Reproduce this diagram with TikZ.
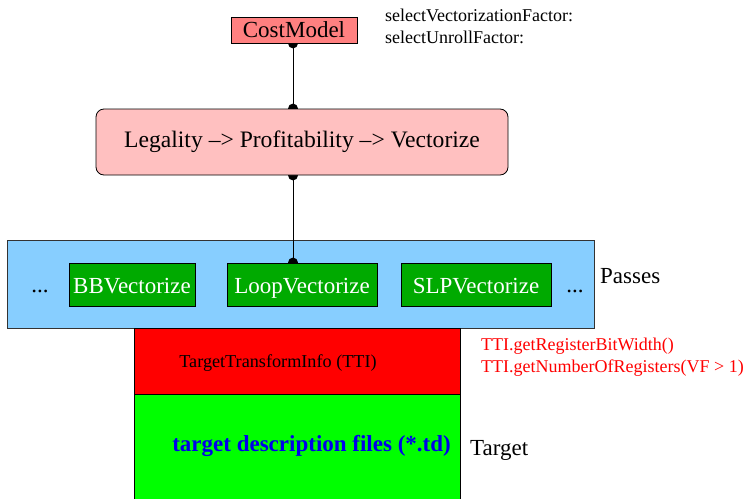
\documentclass[tikz,border=0pt]{standalone}
\usepackage{fontspec}
\setmainfont{Liberation Serif}
\usetikzlibrary{backgrounds}
\pgfdeclarelayer{links}
\pgfsetlayers{background,links,main}

\definecolor{costred}{RGB}{255,128,128}
\definecolor{legpink}{RGB}{255,192,192}
\definecolor{passblue}{RGB}{135,206,255}
\definecolor{passgreen}{RGB}{0,170,0}
\definecolor{ttired}{RGB}{255,0,0}
\definecolor{tdgreen}{RGB}{0,255,0}
\definecolor{tdblue}{RGB}{0,0,235}

\tikzset{
  box/.style={draw=black, line width=0.8pt, inner sep=0pt, anchor=center},
  passbox/.style={box, fill=passgreen, text=white, minimum height=43pt,
                  text height=19pt, text depth=2pt,
                  font=\fontsize{23}{26}\selectfont},
  big/.style={font=\fontsize{23}{26}\selectfont},
  note/.style={font=\fontsize{18}{21.5}\selectfont, align=left, anchor=north west, inner sep=0pt},
  link/.style={draw=black, line width=0.8pt},
  dot/.style={fill=black}
}

\begin{document}
\begin{tikzpicture}[x=1pt, y=-1pt]
  \useasboundingbox (0,0) rectangle (754,498);

  % cost model and the planning box
  \node[box, fill=costred, minimum width=126pt, minimum height=26pt, big] (cost) at (294,30) {CostModel};
  \node[note, text=black] (calls) at (385,9) {selectVectorizationFactor:\\selectUnrollFactor:};
  \node[box, fill=legpink, rounded corners=8pt, minimum width=412pt, minimum height=66pt,
        font=\fontsize{23.6}{26}\selectfont]
       (plan) at (302,142) {Legality –> Profitability –> Vectorize};

  % passes container and the vectorizer passes
  \begin{scope}[on background layer]
    \node[box, draw=black!80, fill=passblue, minimum width=587pt, minimum height=88pt] (passes) at (300.5,284) {};
  \end{scope}
  \node[passbox, minimum width=126pt] (bb) at (132,284.5) {BBVectorize};
  \node[passbox, minimum width=150pt] (loop) at (302,284.5) {LoopVectorize};
  \node[passbox, minimum width=150pt] (slp) at (476,284.5) {SLPVectorize};
  \node[big, anchor=base, inner sep=0pt] (dotsl) at (40,292) {...};
  \node[big, anchor=base, inner sep=0pt] (dotsr) at (575,292) {...};
  \node[big, anchor=west, inner sep=0pt] (passlabel) at (600,276) {Passes};

  % target side
  \node[box, fill=ttired, minimum width=326pt, minimum height=66pt] (tti) at (297,361) {};
  \node[anchor=base, inner sep=0pt, font=\fontsize{18.2}{20}\selectfont] (ttitext) at (278,367) {TargetTransformInfo (TTI)};
  \node[box, fill=tdgreen, minimum width=326pt, minimum height=110pt] (td) at (297,449) {};
  \node[anchor=base east, inner sep=0pt, text=tdblue, font=\fontsize{23}{26}\selectfont\bfseries]
       (tdtext) at (451,451) {target description files (*.td)};
  \node[big, anchor=base west, inner sep=0pt] (target) at (470,455) {Target};
  \node[note, text=ttired, font=\fontsize{18}{22}\selectfont] (ttinote) at (481,338) {TTI.getRegisterBitWidth()\\TTI.getNumberOfRegisters(VF > 1)};

  % connectors with round joints on the box borders
  \begin{pgfonlayer}{links}
    \draw[link] (cost.south -| 293,0) -- (plan.north -| 293,0);
    \fill[dot] (cost.south -| 293,0) circle (5pt);
    \fill[dot] (plan.north -| 293,0) circle (5pt);
    \draw[link] (plan.south -| 293,0) -- (loop.north -| 293,0);
    \fill[dot] (plan.south -| 293,0) circle (5pt);
    \fill[dot] (loop.north -| 293,0) circle (5pt);
  \end{pgfonlayer}
\end{tikzpicture}
\end{document}
